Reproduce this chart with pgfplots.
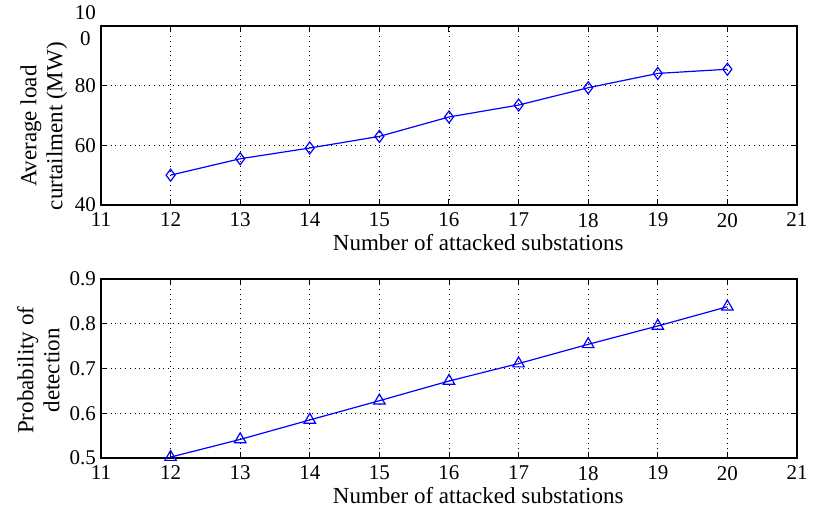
\documentclass[border=0pt]{standalone}
\usepackage{fontspec}
\setmainfont{Liberation Serif}
\usepackage{pgfplots}
\pgfplotsset{compat=1.18}
\pgfplotstableread{
x y
12 50.0
13 55.5
14 59.1
15 63.0
16 69.5
17 73.5
18 79.3
19 84.1
20 85.5
}\curtail
\pgfplotstableread{
x y
12 0.502
13 0.5415
14 0.585
15 0.628
16 0.672
17 0.711
18 0.754
19 0.795
20 0.838
}\detect
\pgfplotsset{
  matlab/.style={
    scale only axis, width=348pt, height=89.5pt,
    font=\fontsize{10.5}{12}\selectfont,
    /pgf/number format/assume math mode=true,
    xmin=11, xmax=21, xtick={11,...,21},
    tick pos=both, tick align=inside, major tick length=3pt,
    grid=major, major grid style={black, dotted, line width=0.4pt},
    axis line style={line width=0.6pt},
    every tick/.style={black, line width=0.5pt},
    xlabel={Number of attacked substations},
    xlabel style={at={(axis description cs:0.542,-0.21)}, anchor=center, font=\fontsize{11.5}{13}\selectfont},
    ylabel style={align=center, anchor=center, rotate=0, font=\fontsize{11.5}{13}\selectfont},
    x tick label style={yshift=-0.5pt, font=\rmfamily\fontsize{10.5}{12}\selectfont},
    y tick label style={align=center, xshift=1pt, font=\rmfamily\fontsize{10.5}{12}\selectfont},
  }
}
\begin{document}
\begin{tikzpicture}
\useasboundingbox (-50.5pt,-150.5pt) rectangle (357pt,102.5pt);
\begin{axis}[matlab, at={(0,0)}, anchor=south west,
  ymin=40, ymax=100, ytick={40,60,80,100},
  yticklabels={40,60,80,{10\\[1pt]0}},
  ylabel={Average load\\curtailment (MW)},
  ylabel style={at={(axis description cs:-0.082,0.44)}},
]
\addplot[blue, line width=0.6pt, mark=diamond, mark size=3pt, mark options={solid, fill=none}] table[x=x,y=y] {\curtail};
\end{axis}
\begin{axis}[matlab, at={(0,-126.5pt)}, anchor=south west,
  ymin=0.5, ymax=0.9, ytick={0.5,0.6,0.7,0.8,0.9},
  yticklabels={0.5,0.6,0.7,0.8,0.9},
  ylabel={Probability of\\detection},
  ylabel style={at={(axis description cs:-0.09,0.49)}},
]
\addplot[blue, line width=0.6pt, mark=triangle, mark size=3.3pt, mark options={solid, fill=none}] table[x=x,y=y] {\detect};
\end{axis}
\end{tikzpicture}
\end{document}
